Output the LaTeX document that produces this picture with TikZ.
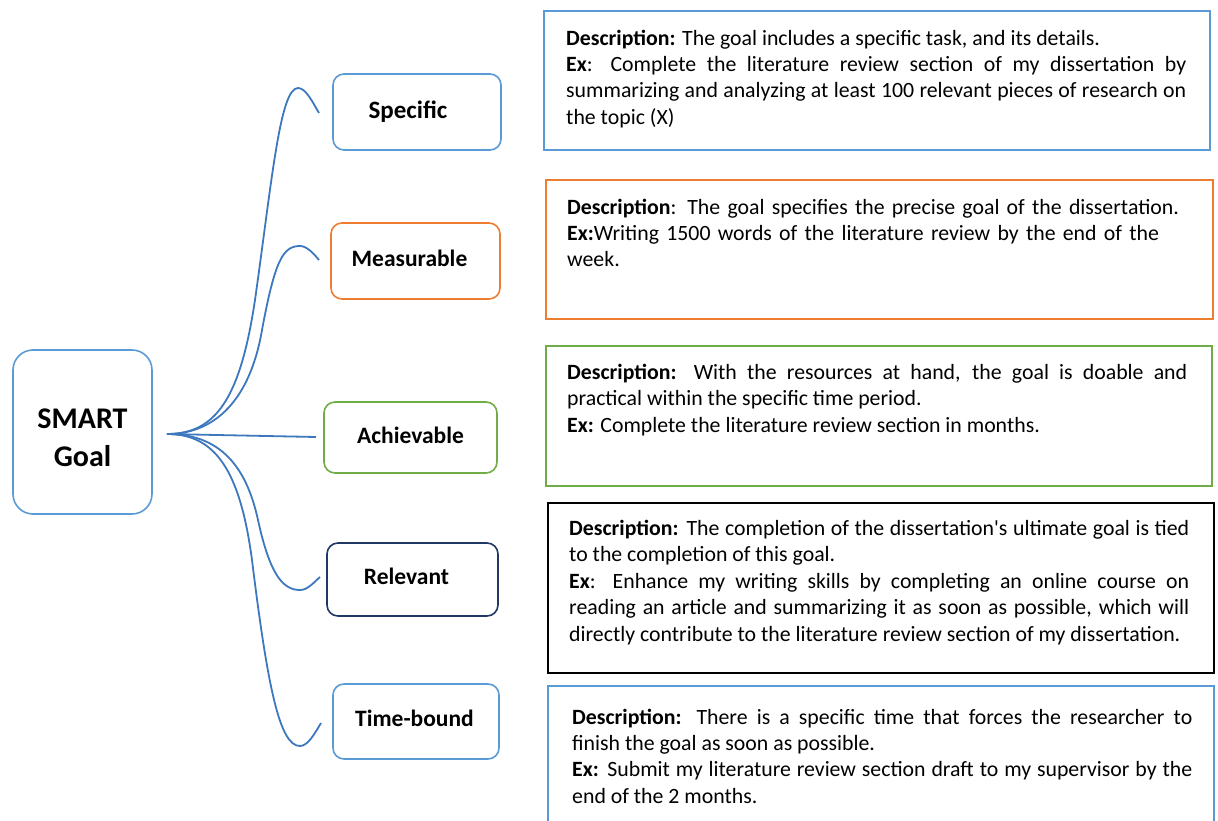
\documentclass[tikz,border=0pt]{standalone}
\usepackage{fontspec}
\setmainfont{Carlito}[Ligatures=TeXOff]
\definecolor{lblue}{HTML}{5B9BD5}
\definecolor{cblue}{HTML}{3D78BE}
\definecolor{orng}{HTML}{ED7D31}
\definecolor{grn}{HTML}{70AD47}
\definecolor{navy}{HTML}{1F3864}
\tikzset{
  x=1pt,y=-1pt,
  catbox/.style={draw, rounded corners=11pt, line width=1.6pt, font=\fontsize{23.5}{28}\selectfont\bfseries},
  descbox/.style={draw, line width=1.8pt},
  desctext/.style={anchor=north west, inner sep=0pt, text width=620pt, align=justify, font=\fontsize{21.8}{26.4}\selectfont},
  conn/.style={draw=cblue, line width=1.8pt}
}
\begin{document}
\begin{tikzpicture}
\useasboundingbox (0,0) rectangle (1218,821);
% left nodes
\node[catbox, draw=lblue, rounded corners=20pt, minimum width=139pt, minimum height=164pt, font=\fontsize{30}{38}\selectfont\bfseries] (smart) at (82.5,432) {\raisebox{-8pt}[\height][\depth]{\begin{tabular}{@{}c@{}}SMART\\Goal\end{tabular}}};
\node[catbox, draw=lblue, minimum width=168pt, minimum height=76pt] (spec) at (417,112) {\hspace*{-18pt}{\fontsize{25}{28}\selectfont Specific}};
\node[catbox, draw=orng, minimum width=169pt, minimum height=76pt] (meas) at (415.5,261) {\hspace*{-12pt}\raisebox{3pt}[\height][\depth]{Measurable}};
\node[catbox, draw=grn, minimum width=173pt, minimum height=71pt] (achv) at (410.5,437.5) {\raisebox{2pt}[\height][\depth]{Achievable}};
\node[catbox, draw=navy, minimum width=171pt, minimum height=73pt] (relv) at (412.5,579.5) {\hspace*{-12pt}\raisebox{3pt}[\height][\depth]{Relevant}};
\node[catbox, draw=lblue, minimum width=166pt, minimum height=75pt] (time) at (416,721.5) {\hspace*{-3pt}\raisebox{3pt}[\height][\depth]{Time-bound}};
% description boxes
\draw[descbox, draw=lblue] (544,11) rectangle (1210,150);
\draw[descbox, draw=orng] (546,180) rectangle (1213,319);
\draw[descbox, draw=grn] (546,346) rectangle (1212,486);
\draw[descbox, draw=black] (548,503) rectangle (1214,673);
\draw[descbox, draw=lblue] (548,686) rectangle (1214,830);
\node[desctext] (d1) at (566,29.5) {\textbf{Description:} The goal includes a specific task, and its details.\\
\textbf{Ex}: Complete the literature review section of my dissertation by\linebreak summarizing and analyzing at least 100 relevant pieces of research on\linebreak the topic (X)};
\node[desctext, align=left] (d2) at (567,198.5) {\textbf{Description}: The goal specifies the precise goal of the dissertation.\\
\textbf{Ex:}Writing 1500 words of the literature review by the end of the\\ week.};
\node[desctext] (d3) at (567,364) {\textbf{Description:} With the resources at hand, the goal is doable and\linebreak practical within the specific time period.\\
\textbf{Ex:} Complete the literature review section in months.};
\node[desctext] (d4) at (569,520) {\textbf{Description:} The completion of the dissertation's ultimate goal is tied\linebreak to the completion of this goal.\\
\textbf{Ex}: Enhance my writing skills by completing an online course on\linebreak reading an article and summarizing it as soon as possible, which will\linebreak directly contribute to the literature review section of my dissertation.};
\node[desctext] (d5) at (572,708.5) {\textbf{Description:} There is a specific time that forces the researcher to\linebreak finish the goal as soon as possible.\\
\textbf{Ex:} Submit my literature review section draft to my supervisor by the\linebreak end of the 2 months.};
% connectors
\coordinate (hub) at (167,434);
\coordinate (eS) at (319,113);
\coordinate (eM) at (319,260);
\coordinate (eA) at (316,437);
\coordinate (eR) at (320,577);
\coordinate (eT) at (321,723);
\draw[conn] (hub) .. controls (215,434) and (240,400) .. (255,300) .. controls (272,180) and (280,88) .. (298,88) .. controls (306,88) and (313,103) .. (eS);
\draw[conn] (hub) .. controls (215,434) and (250,400) .. (262,330) .. controls (275,260) and (283,246) .. (300,246) .. controls (307,246) and (314,254) .. (eM);
\draw[conn] (hub) -- (eA);
\draw[conn] (hub) .. controls (215,434) and (245,460) .. (258,520) .. controls (270,575) and (283,590) .. (300,590) .. controls (308,590) and (314,582) .. (eR);
\draw[conn] (hub) .. controls (215,434) and (240,470) .. (252,560) .. controls (268,690) and (280,746) .. (300,746) .. controls (308,746) and (315,733) .. (eT);
\end{tikzpicture}
\end{document}
